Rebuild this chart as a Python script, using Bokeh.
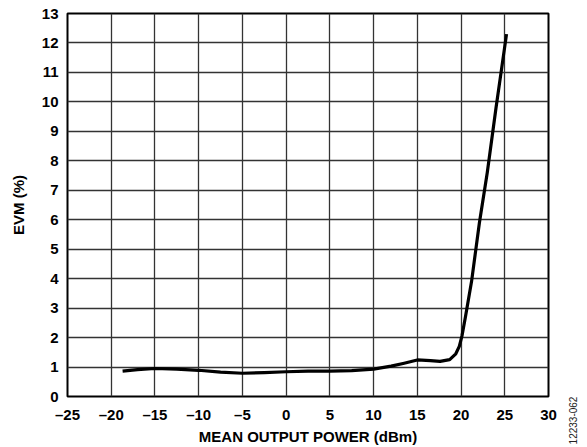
import math
from bokeh.plotting import figure
from bokeh.layouts import row
from bokeh.models import Range1d, FixedTicker, Label
from bokeh.embed import file_html
from bokeh.resources import INLINE

# Data
power_dbm = [-18.7, -17, -15, -12.5, -10, -7.5, -5, -2.5, 0, 2.5, 5, 7.5, 10, 12, 13.5,
             15, 16.5, 17.6, 18.7, 19.4, 19.8, 20.1, 20.5, 21.2, 22.1, 23, 24, 25.2]
evm_pct = [0.86, 0.91, 0.95, 0.93, 0.89, 0.83, 0.79, 0.81, 0.84, 0.86, 0.86, 0.88, 0.93, 1.03, 1.13,
           1.24, 1.22, 1.19, 1.25, 1.45, 1.7, 2.05, 2.7, 3.9, 5.9, 7.6, 9.8, 12.3]

x_ticks = [-25, -20, -15, -10, -5, 0, 5, 10, 15, 20, 25, 30]
y_ticks = list(range(0, 14))
x_title = "MEAN OUTPUT POWER (dBm)"
y_title = "EVM (%)"
figure_id = "12233-062"

FONT = "Liberation Sans"

p = figure(width=560, height=447, output_backend="svg", toolbar_location=None,
           x_range=Range1d(-25, 30), y_range=Range1d(0, 13),
           min_border_left=67, min_border_right=12, min_border_top=13, min_border_bottom=51)
p.background_fill_color = "white"
p.border_fill_color = "white"
p.outline_line_color = "black"
p.outline_line_width = 2

p.xaxis.ticker = FixedTicker(ticks=x_ticks)
p.yaxis.ticker = FixedTicker(ticks=y_ticks)
p.xaxis.major_label_overrides = {t: (("\u2013" + str(-t)) if t < 0 else str(t)) for t in x_ticks}

for ax in (p.xaxis, p.yaxis):
    ax.axis_line_color = None
    ax.major_tick_line_color = None
    ax.minor_tick_line_color = None
    ax.major_tick_out = 0
    ax.major_tick_in = 0
    ax.minor_tick_out = 0
    ax.minor_tick_in = 0
    ax.major_label_text_font = FONT
    ax.major_label_text_font_style = "bold"
    ax.major_label_text_font_size = "15px"
    ax.major_label_text_color = "black"
    ax.axis_label_text_font = FONT
    ax.axis_label_text_font_style = "bold"
    ax.axis_label_text_font_size = "15px"
    ax.axis_label_text_color = "black"

p.xaxis.axis_label = x_title
p.yaxis.axis_label = y_title
p.xaxis.major_label_standoff = 9
p.xaxis.axis_label_standoff = 2
p.yaxis.major_label_standoff = 9
p.yaxis.axis_label_standoff = 12

for g in (p.xgrid, p.ygrid):
    g.grid_line_color = "#333333"
    g.grid_line_width = 1.3
    g.grid_line_alpha = 1.0

p.line(power_dbm, evm_pct, line_color="black", line_width=3.2, line_join="round", line_cap="butt")

# narrow side panel carrying the vertical figure number
side = figure(width=27, height=447, output_backend="svg", toolbar_location=None,
              x_range=Range1d(0, 1), y_range=Range1d(0, 1),
              min_border_left=0, min_border_right=0, min_border_top=0, min_border_bottom=0,
              x_axis_type=None, y_axis_type=None)
side.outline_line_color = None
side.grid.visible = False
side.background_fill_color = "white"
side.border_fill_color = "white"
for fig in (p, side):
    if "frame_align" in fig.properties():
        fig.frame_align = False
side.add_layout(Label(x=12, y=27, x_units="screen", y_units="screen", text=figure_id,
                      angle=math.pi / 2, text_font=FONT, text_font_size="10px",
                      text_color="#222222", text_baseline="middle", text_align="center"))

layout = row(p, side, spacing=0)

open("out.html", "w").write(file_html(layout, INLINE))
